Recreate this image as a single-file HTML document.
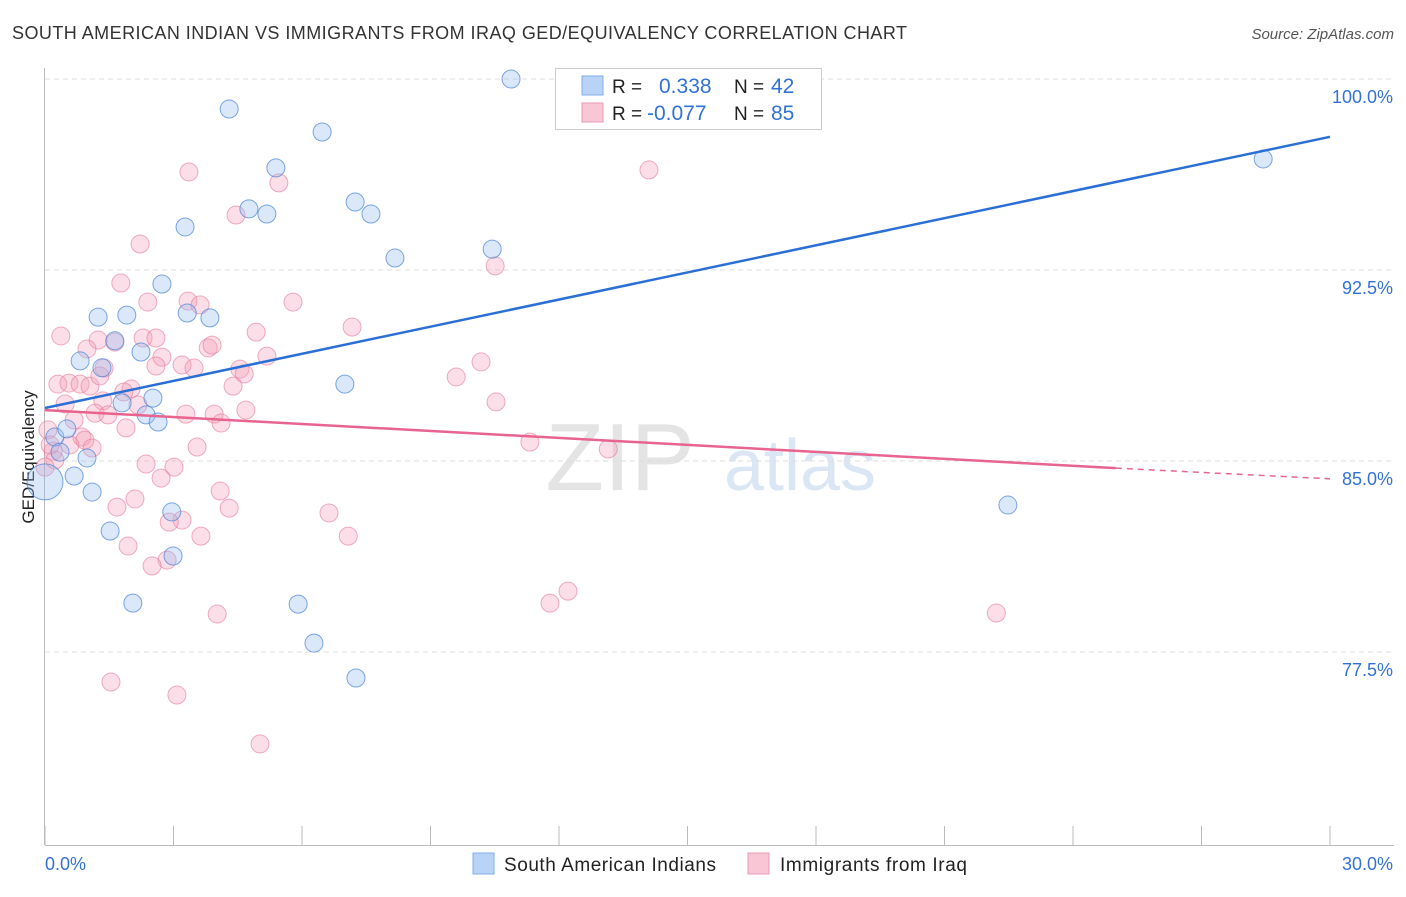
<!DOCTYPE html>
<html><head><meta charset="utf-8"><style>
body{margin:0;background:#fff;font-family:"Liberation Sans",sans-serif;}
svg text{font-family:"Liberation Sans",sans-serif;}
</style></head><body>
<svg id="c" width="1406" height="892" xmlns="http://www.w3.org/2000/svg">
<text x="12" y="39" font-size="18" fill="#333" textLength="895">SOUTH AMERICAN INDIAN VS IMMIGRANTS FROM IRAQ GED/EQUIVALENCY CORRELATION CHART</text>
<text x="1394" y="39" font-size="15" fill="#555" font-style="italic" text-anchor="end">Source: ZipAtlas.com</text>
<text x="34" y="457" font-size="17" fill="#222" text-anchor="middle" transform="rotate(-90 34 457)">GED/Equivalency</text>
<text x="620" y="490" font-size="96" fill="#e4e4e4" font-family="Liberation Serif" text-anchor="middle">ZIP</text>
<text x="800" y="490" font-size="72" fill="#dbe6f5" text-anchor="middle">atlas</text>
<g id="grid"></g><g id="axes"></g><g id="pts"></g><g id="lines"></g>
<g>
<rect x="555.5" y="68.5" width="266" height="61" fill="#fff" stroke="#ccc"/>
<rect x="582" y="76" width="21" height="19" fill="#b9d3f6" stroke="#80aee8"/>
<rect x="582" y="103" width="21" height="19" fill="#f9c6d5" stroke="#ec9ab4"/>
<text x="612" y="93" font-size="19" fill="#222">R =</text>
<text x="659" y="93" font-size="21" fill="#3272d8">0.338</text>
<text x="734" y="93" font-size="19" fill="#222">N =</text>
<text x="771" y="93" font-size="21" fill="#3272d8">42</text>
<text x="612" y="120" font-size="19" fill="#222">R =</text>
<text x="647" y="120" font-size="21" fill="#3272d8">-0.077</text>
<text x="734" y="120" font-size="19" fill="#222">N =</text>
<text x="771" y="120" font-size="21" fill="#3272d8">85</text>
</g>
<g>
<rect x="473" y="853" width="21" height="21" fill="#b9d3f6" stroke="#80aee8"/>
<text x="504" y="871" font-size="19" fill="#222" textLength="212">South American Indians</text>
<rect x="748" y="853" width="21" height="21" fill="#f9c6d5" stroke="#ec9ab4"/>
<text x="780" y="871" font-size="19" fill="#222" textLength="187">Immigrants from Iraq</text>
</g>
</svg>
<script>
const yTicks=[100,92.5,85,77.5];
const yTickLabels=["100.0%","92.5%","85.0%","77.5%"];
const xTickLabels=["0.0%","30.0%"];
const blueX=[10.88,4.30,6.47,5.39,4.76,5.18,7.24,7.61,3.27,10.44,8.17,2.73,1.24,1.91,3.32,3.85,1.63,2.24,0.82,1.33,7.00,2.52,1.80,2.36,2.64,0.23,0.51,0.35,0.98,0.68,1.10,1.52,2.96,2.99,2.05,5.91,6.28,7.26,22.48,28.44,0];
const blueY=[100,98.82,97.92,96.51,94.90,94.70,95.17,94.70,94.19,93.32,92.97,91.95,90.65,90.73,90.81,90.62,89.72,89.28,88.93,88.66,88.02,87.47,87.28,86.81,86.53,85.94,86.26,85.35,85.12,84.41,83.78,82.25,83.00,81.27,79.42,79.38,77.85,76.48,83.27,96.86,84.18];
const pinkX=[14.10,3.36,5.46,4.46,2.22,10.51,1.77,2.40,3.34,3.62,5.79,7.17,0.37,1.24,1.63,2.29,2.59,4.93,3.81,3.90,0.98,2.73,3.20,2.59,3.48,5.18,4.55,4.65,10.18,9.60,0.30,0.56,0.82,1.05,1.38,1.28,2.01,1.84,4.39,2.17,1.35,0.47,4.69,10.53,3.29,3.95,1.17,1.47,4.11,0.68,1.89,0.86,0.93,1.10,0.58,0.19,0.23,0,11.32,13.15,3.55,2.36,3.01,2.71,4.09,2.10,1.68,4.30,6.63,3.20,2.90,3.64,7.08,1.94,2.85,2.50,11.79,12.21,4.02,22.21,1.54,3.08,5.02,0.07,0.12];
const pinkY=[96.43,96.35,95.92,94.66,93.52,92.66,91.99,91.24,91.28,91.13,91.24,90.26,89.91,89.75,89.67,89.83,89.83,90.06,89.44,89.55,89.40,89.08,88.77,88.73,88.65,89.12,88.61,88.42,88.89,88.30,88.02,88.06,88.02,87.94,88.65,88.34,87.83,87.71,87.94,87.20,87.36,87.24,87.00,87.32,86.84,86.84,86.88,86.81,86.49,86.61,86.30,85.94,85.82,85.51,85.63,85.39,85.04,84.76,85.74,85.47,85.55,84.88,84.76,84.33,83.82,83.51,83.19,83.15,82.96,82.68,82.60,82.05,82.05,81.66,81.11,80.88,79.42,79.89,78.99,79.03,76.32,75.81,73.89,86.22,85.63];
const blueTrend=[87.08,97.73];
const pinkTrend=[87.0,84.72,84.3];
const NS="http://www.w3.org/2000/svg";
const X=v=>45+v/30*1285, Y=v=>79+(100-v)/7.5*191;
function mk(t,a,p){const e=document.createElementNS(NS,t);for(const k in a)e.setAttribute(k,a[k]);document.getElementById(p).appendChild(e);return e;}
yTicks.forEach((t,i)=>{
 const g=mk('line',{x1:45,x2:1394,y1:Y(t),y2:Y(t),stroke:'#ddd','stroke-dasharray':'5,4'},'grid');
 
 
 const tx=mk('text',{x:1393,y:Y(t)+24,'font-size':18,fill:'#3272d8','text-anchor':'end'},'axes');tx.textContent=yTickLabels[i];
 
 
});
mk('line',{x1:44.5,x2:44.5,y1:68,y2:845,stroke:'#bbb'},'axes');
mk('line',{x1:45,x2:1394,y1:845.5,y2:845.5,stroke:'#bbb'},'axes');
for(let i=0;i<=10;i++){mk('line',{x1:X(i*3),x2:X(i*3),y1:826,y2:845,stroke:'#bbb'},'axes');}
const xl0=mk('text',{x:45,y:870,'font-size':18,fill:'#3272d8'},'axes');xl0.textContent=xTickLabels[0];


const xl1=mk('text',{x:1393,y:870,'font-size':18,fill:'#3272d8','text-anchor':'end'},'axes');xl1.textContent=xTickLabels[1];


pinkX.forEach((v,i)=>{const c=mk('circle',{cx:X(v),cy:Y(pinkY[i]),r:9,fill:'rgba(244,160,185,0.35)',stroke:'rgba(230,120,155,0.6)'},'pts');
 
 });
blueX.forEach((v,i)=>{const c=mk('circle',{cx:X(v),cy:Y(blueY[i]),r:(i==blueX.length-1?18:9),fill:'rgba(150,190,240,0.35)',stroke:'rgba(70,130,215,0.7)'},'pts');
 
 });
const bl=mk('line',{x1:X(0),y1:Y(blueTrend[0]),x2:X(30),y2:Y(blueTrend[1]),stroke:'#2a6fd6','stroke-width':2.5},'lines');


const pl=mk('line',{x1:X(0),y1:Y(pinkTrend[0]),x2:X(25),y2:Y(pinkTrend[1]),stroke:'#e8648f','stroke-width':2.5},'lines');


const pd=mk('line',{x1:X(25),y1:Y(pinkTrend[1]),x2:X(30),y2:Y(pinkTrend[2]),stroke:'#e8648f','stroke-width':1.5,'stroke-dasharray':'6,5'},'lines');


</script>
</body></html>
